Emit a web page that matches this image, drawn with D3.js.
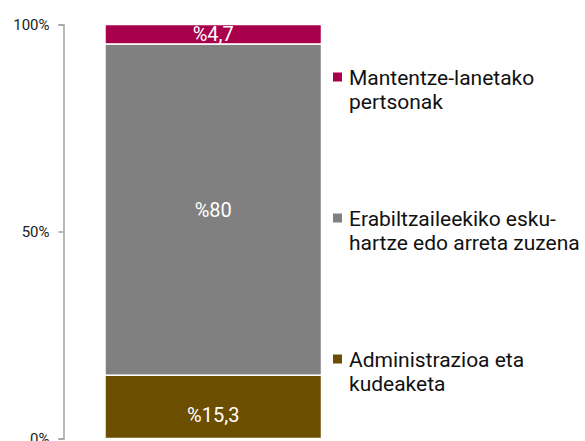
<!DOCTYPE html>
<html>
<head>
<meta charset="utf-8">
<script src="https://cdn.jsdelivr.net/npm/d3@7/dist/d3.min.js"></script>
<style>
  html, body { margin: 0; padding: 0; background: #fff; }
  svg { display: block; font-family: Roboto, "Noto Sans", sans-serif; }
</style>
</head>
<body>
<svg id="chart" width="585" height="441"></svg>
<script>
// Data (bottom to top)
const categories = ["Administrazioa eta kudeaketa", "Erabiltzaileekiko esku-hartze edo arreta zuzena", "Mantentze-lanetako pertsonak"];
const legendLines = [["Administrazioa eta", "kudeaketa"], ["Erabiltzaileekiko esku-", "hartze edo arreta zuzena"], ["Mantentze-lanetako", "pertsonak"]];
const values = [15.3, 80, 4.7];
const valueLabels = ["%15,3", "%80", "%4,7"];
const colors = ["#6b4e00", "#808080", "#a8004b"];
const tickValues = [0, 50, 100];
const tickLabels = ["0%", "50%", "100%"];

const svg = d3.select("#chart");

const y = d3.scaleLinear().domain([0, 100]).range([438.5, 24.5]);
const x = d3.scaleBand().domain(["all"]).range([105, 321.5]).padding(0);

// stack
let acc = 0;
const segs = values.map((v, i) => {
  const s = { i, y0: acc, y1: acc + v, v };
  acc += v;
  return s;
});

// axis
const axis = d3.axisLeft(y)
  .tickValues(tickValues)
  .tickFormat((d, i) => tickLabels[i])
  .tickSize(5)
  .tickPadding(9);

const gAxis = svg.append("g")
  .attr("transform", "translate(63.5,0)")
  .call(axis);
gAxis.selectAll("path, line").attr("stroke", "#a0a0a0").attr("stroke-width", 1.5);
gAxis.selectAll("text").attr("font-size", 15).attr("fill", "#222")
  .attr("font-family", "Roboto, sans-serif");

// bars
svg.append("g").selectAll("rect").data(segs).join("rect")
  .attr("x", x("all"))
  .attr("width", x.bandwidth())
  .attr("y", d => y(d.y1))
  .attr("height", d => y(d.y0) - y(d.y1))
  .attr("fill", d => colors[d.i])
  .attr("stroke", "#fff")
  .attr("stroke-width", 1.5);

// value labels
svg.append("g").selectAll("text").data(segs).join("text")
  .attr("x", x("all") + x.bandwidth() / 2)
  .attr("y", d => (y(d.y0) + y(d.y1)) / 2 + (d.i === 0 ? 8 : 0))
  .attr("dy", "0.36em")
  .attr("text-anchor", "middle")
  .attr("font-size", 20)
  .attr("fill", "#fff")
  .text(d => valueLabels[d.i]);

// legend (top to bottom: last category first)
const legendY = d3.scalePoint().domain([2, 1, 0]).range([77, 359]);
const lg = svg.append("g").selectAll("g").data(segs).join("g")
  .attr("transform", d => `translate(333,${legendY(d.i)})`);
lg.append("rect")
  .attr("x", 0).attr("y", -4.5)
  .attr("width", 9).attr("height", 9)
  .attr("fill", d => colors[d.i]);
lg.append("text")
  .attr("x", 16)
  .attr("font-size", 21)
  .attr("fill", "#111")
  .selectAll("tspan").data(d => legendLines[d.i]).join("tspan")
  .attr("x", 16)
  .attr("y", (d, j) => j * 24)
  .attr("dy", "0.36em")
  .text(d => d);
</script>
</body>
</html>
